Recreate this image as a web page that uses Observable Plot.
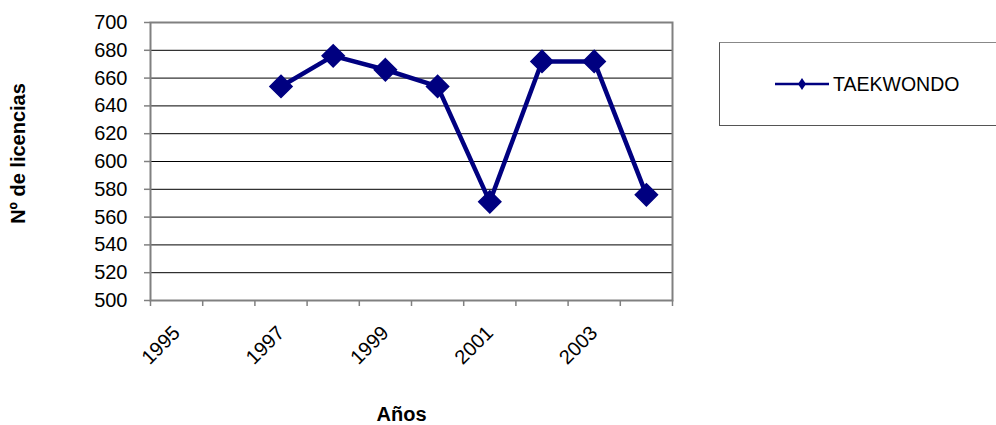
<!DOCTYPE html>
<html><head><meta charset="utf-8">
<script src="https://cdn.jsdelivr.net/npm/d3@7"></script>
<script src="https://cdn.jsdelivr.net/npm/@observablehq/plot@0.6"></script>
<style>
body{margin:0;background:#fff;font-family:"Liberation Sans",Arial,sans-serif;}
#wrap{position:relative;width:996px;height:425px;overflow:hidden;}
#legend{position:absolute;left:719px;top:42px;width:277px;height:84px;box-sizing:border-box;border:1px solid #555;border-top-color:#888;border-right:none;background:#fff;}
#legend svg{position:absolute;left:0;top:0;}
#legend span{position:absolute;left:113px;top:30px;font-size:19.5px;line-height:22px;color:#000;}
</style>
</head><body>
<div id="wrap"><div id="chart"></div><div id="legend"></div></div>
<script>
const categories = [1995, 1996, 1997, 1998, 1999, 2000, 2001, 2002, 2003, 2004];
const dataYears = [1997, 1998, 1999, 2000, 2001, 2002, 2003, 2004];
const licencias = [654, 676, 666, 654, 571, 672, 672, 576];
const yTicks = [500, 520, 540, 560, 580, 600, 620, 640, 660, 680, 700];
const xLabels = [1995, 1997, 1999, 2001, 2003];
const seriesName = "TAEKWONDO";
const yTitle = "Nº de licencias";
const xTitle = "Años";

const navy = "#000080";
const data = dataYears.map((year, i) => ({year, value: licencias[i]}));
const boundaries = categories.map(c => c - 0.5).concat([categories[categories.length - 1] + 0.5]);

const chart = Plot.plot({
  width: 996,
  height: 425,
  marginLeft: 150,
  marginRight: 324,
  marginTop: 22,
  marginBottom: 125,
  style: {fontFamily: '"Liberation Sans", Arial, sans-serif', background: "#fff", color: "#000"},
  x: {domain: [boundaries[0], boundaries[boundaries.length - 1]]},
  y: {domain: [yTicks[0], yTicks[yTicks.length - 1]]},
  marks: [
    Plot.ruleY(yTicks.slice(1, -1), {stroke: "#000", strokeWidth: 1}),
    Plot.frame({stroke: "#808080", strokeWidth: 2}),
    Plot.axisY({ticks: yTicks, tickSize: 6, tickPadding: 17, fontSize: 20, stroke: "#808080", strokeWidth: 1.5, label: null, tickFormat: d => String(d)}),
    Plot.axisX({ticks: boundaries, tickSize: 6, stroke: "#808080", strokeWidth: 1.5, tickFormat: () => "", label: null}),
    Plot.axisX({ticks: xLabels, tickSize: 0, tickPadding: 29, tickRotate: -45, fontSize: 20, label: null, tickFormat: d => String(d)}),
    Plot.line(data, {x: "year", y: "value", stroke: navy, strokeWidth: 4.5}),
    Plot.dot(data, {x: "year", y: "value", symbol: "diamond2", r: 10, fill: navy, stroke: navy}),
    Plot.text([yTitle], {frameAnchor: "left", dx: -132, dy: -8, rotate: -90, fontSize: 20, fontWeight: "bold", textAnchor: "middle"}),
    Plot.text([xTitle], {frameAnchor: "bottom", dx: -10, dy: 120, fontSize: 20, fontWeight: "bold", textAnchor: "middle"})
  ]
});
document.getElementById("chart").appendChild(chart);

const legend = document.getElementById("legend");
const lsvg = d3.create("svg").attr("width", 110).attr("height", 84);
lsvg.append("line").attr("x1", 55).attr("x2", 109).attr("y1", 41).attr("y2", 41).attr("stroke", navy).attr("stroke-width", 2.5);
lsvg.append("path").attr("d", "M82,35L86,41L82,47L78,41Z").attr("fill", navy);
legend.appendChild(lsvg.node());
const sp = document.createElement("span");
sp.textContent = seriesName;
legend.appendChild(sp);
</script>
</body></html>
